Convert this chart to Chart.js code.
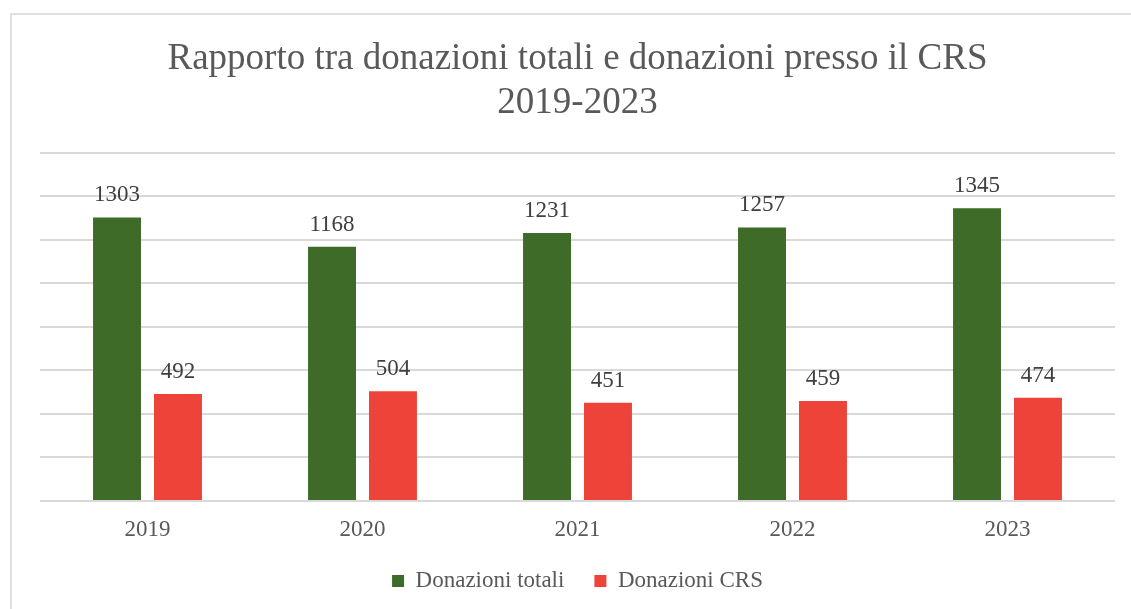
<!DOCTYPE html>
<html>
<head>
    <title>Rapporto donazioni</title>
    <script src="https://cdn.jsdelivr.net/npm/chart.js"></script>
    <style>
        body { margin: 0; background: #fff; overflow: hidden; }
        #frame { position: absolute; left: 10px; top: 13px; width: 1200px; height: 700px; border: 2px solid #e0e0e0; }
        #chartBox { position: absolute; left: 0; top: 0; width: 1131px; height: 609px; }
    </style>
</head>
<body>
    <div id="frame"></div>
    <div id="chartBox"><canvas id="donChart"></canvas></div>

    <script>
        const anni = ['2019', '2020', '2021', '2022', '2023'];
        const donazioniTotali = [1303, 1168, 1231, 1257, 1345];
        const donazioniCRS = [492, 504, 451, 459, 474];
        const titolo = ['Rapporto tra donazioni totali e donazioni presso il CRS', '2019-2023'];

        const serif = "'Liberation Serif', 'Times New Roman', serif";

        // etichette dei valori sopra le barre
        const valueLabels = {
            id: 'valueLabels',
            afterDatasetsDraw(chart) {
                const ctx = chart.ctx;
                ctx.save();
                ctx.font = '23px ' + serif;
                ctx.fillStyle = '#404040';
                ctx.textAlign = 'center';
                ctx.textBaseline = 'alphabetic';
                chart.data.datasets.forEach((ds, i) => {
                    chart.getDatasetMeta(i).data.forEach((bar, j) => {
                        ctx.fillText(ds.data[j], bar.x, bar.y - 16);
                    });
                });
                ctx.restore();
            }
        };

        new Chart(document.getElementById('donChart'), {
            type: 'bar',
            data: {
                labels: anni,
                datasets: [
                    { label: 'Donazioni totali', data: donazioniTotali, backgroundColor: '#3e6b27' },
                    { label: 'Donazioni CRS', data: donazioniCRS, backgroundColor: '#ee4339' }
                ]
            },
            options: {
                responsive: true,
                maintainAspectRatio: false,
                animation: false,
                categoryPercentage: 0.567,
                barPercentage: 0.787,
                layout: { padding: { left: 40, right: 16, bottom: 6.6 } },
                plugins: {
                    title: {
                        display: true,
                        text: titolo,
                        color: '#595959',
                        font: { family: serif, size: 37, weight: 'normal', lineHeight: 1.2 },
                        padding: { top: 37, bottom: 27 }
                    },
                    legend: {
                        position: 'bottom',
                        labels: {
                            color: '#595959',
                            font: { family: serif, size: 23 },
                            boxWidth: 12,
                            boxHeight: 12,
                            padding: 30
                        }
                    },
                    tooltip: { enabled: false }
                },
                scales: {
                    x: {
                        // i tick non si vedono (grid nascosta), servono solo a spostare le etichette
                        grid: { display: false, drawTicks: true, tickLength: 20 },
                        border: { display: false },
                        ticks: { color: '#595959', font: { family: serif, size: 23, lineHeight: 0.8 }, padding: 0 }
                    },
                    y: {
                        min: 0,
                        max: 1600,
                        ticks: { display: false, stepSize: 200 },
                        border: { display: false },
                        grid: { color: '#d9d9d9', lineWidth: 2, drawTicks: false }
                    }
                }
            },
            plugins: [valueLabels]
        });
    </script>
</body>
</html>
